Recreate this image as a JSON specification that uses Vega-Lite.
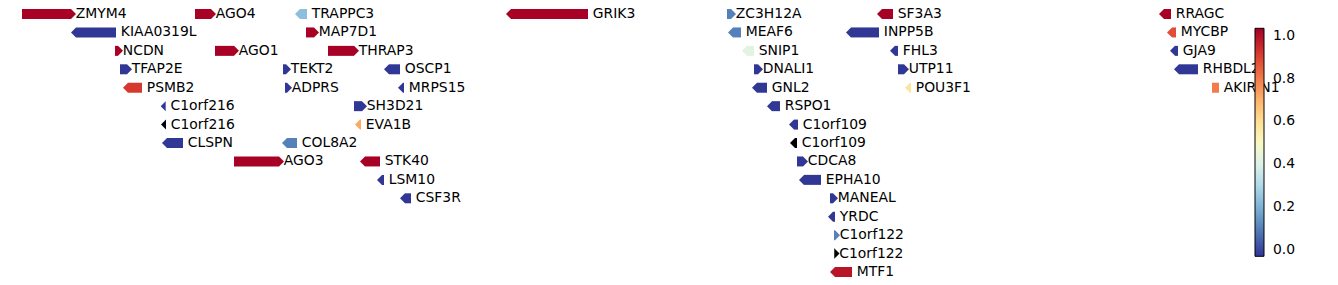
{
  "$schema": "https://vega.github.io/schema/vega-lite/v6.json",
  "width": 1338,
  "height": 285,
  "padding": 0,
  "autosize": {"type": "none"},
  "config": {"view": {"stroke": null}},
  "data": {
    "values": [
      {"gene": "ZMYM4", "row": 0, "bs": 22, "be": 71, "strand": "+", "score": 1.03},
      {"gene": "AGO4", "row": 0, "bs": 195, "be": 211, "strand": "+", "score": 1.03},
      {"gene": "TRAPPC3", "row": 0, "bs": 300, "be": 307, "strand": "-", "score": 0.23},
      {"gene": "GRIK3", "row": 0, "bs": 511, "be": 588, "strand": "-", "score": 1.03},
      {"gene": "ZC3H12A", "row": 0, "bs": 727, "be": 731, "strand": "+", "score": 0.1},
      {"gene": "SF3A3", "row": 0, "bs": 882, "be": 893, "strand": "-", "score": 1.03},
      {"gene": "RRAGC", "row": 0, "bs": 1164, "be": 1171, "strand": "-", "score": 1.03},
      {"gene": "KIAA0319L", "row": 1, "bs": 76, "be": 116, "strand": "-", "score": -0.03},
      {"gene": "MAP7D1", "row": 1, "bs": 306, "be": 314, "strand": "+", "score": 1.03},
      {"gene": "MEAF6", "row": 1, "bs": 733, "be": 741, "strand": "-", "score": 0.1},
      {"gene": "INPP5B", "row": 1, "bs": 851, "be": 879, "strand": "-", "score": -0.03},
      {"gene": "MYCBP", "row": 1, "bs": 1172, "be": 1176, "strand": "-", "score": 0.88},
      {"gene": "NCDN", "row": 2, "bs": 115, "be": 118, "strand": "+", "score": 1.03},
      {"gene": "AGO1", "row": 2, "bs": 215, "be": 234, "strand": "+", "score": 1.03},
      {"gene": "THRAP3", "row": 2, "bs": 328, "be": 354, "strand": "+", "score": 1.03},
      {"gene": "SNIP1", "row": 2, "bs": 747, "be": 754, "strand": "-", "score": 0.42},
      {"gene": "FHL3", "row": 2, "bs": 895, "be": 898, "strand": "-", "score": -0.03},
      {"gene": "GJA9", "row": 2, "bs": 1175, "be": 1178, "strand": "-", "score": -0.03},
      {"gene": "TFAP2E", "row": 3, "bs": 120, "be": 127, "strand": "+", "score": -0.03},
      {"gene": "TEKT2", "row": 3, "bs": 283, "be": 286, "strand": "+", "score": -0.03},
      {"gene": "OSCP1", "row": 3, "bs": 389, "be": 400, "strand": "-", "score": -0.03},
      {"gene": "DNALI1", "row": 3, "bs": 754, "be": 758, "strand": "+", "score": -0.03},
      {"gene": "UTP11", "row": 3, "bs": 898, "be": 904, "strand": "+", "score": -0.03},
      {"gene": "RHBDL2", "row": 3, "bs": 1179, "be": 1198, "strand": "-", "score": -0.03},
      {"gene": "PSMB2", "row": 4, "bs": 128, "be": 142, "strand": "-", "score": 0.92},
      {"gene": "ADPRS", "row": 4, "bs": 285, "be": 287, "strand": "+", "score": -0.03},
      {"gene": "MRPS15", "row": 4, "bs": 403, "be": 404, "strand": "-", "score": -0.03},
      {"gene": "GNL2", "row": 4, "bs": 757, "be": 767, "strand": "-", "score": -0.03},
      {"gene": "POU3F1", "row": 4, "bs": 910, "be": 911, "strand": "-", "score": 0.58},
      {"gene": "AKIRIN1", "row": 4, "bs": 1212, "be": 1219, "strand": ".", "score": 0.8},
      {"gene": "C1orf216", "row": 5, "bs": 165.7, "be": 165.7, "strand": "-", "score": -0.03},
      {"gene": "SH3D21", "row": 5, "bs": 354, "be": 362, "strand": "+", "score": -0.03},
      {"gene": "RSPO1", "row": 5, "bs": 772, "be": 780, "strand": "-", "score": -0.03},
      {"gene": "C1orf216", "row": 6, "bs": 166, "be": 166, "strand": "-", "score": null},
      {"gene": "EVA1B", "row": 6, "bs": 360, "be": 361, "strand": "-", "score": 0.72},
      {"gene": "C1orf109", "row": 6, "bs": 794, "be": 798, "strand": "-", "score": -0.03},
      {"gene": "CLSPN", "row": 7, "bs": 167, "be": 183, "strand": "-", "score": -0.03},
      {"gene": "COL8A2", "row": 7, "bs": 287, "be": 297, "strand": "-", "score": 0.1},
      {"gene": "C1orf109", "row": 7, "bs": 795, "be": 797, "strand": "-", "score": null},
      {"gene": "AGO3", "row": 8, "bs": 234, "be": 279, "strand": "+", "score": 1.03},
      {"gene": "STK40", "row": 8, "bs": 365, "be": 380, "strand": "-", "score": 1.03},
      {"gene": "CDCA8", "row": 8, "bs": 797, "be": 803, "strand": "+", "score": -0.03},
      {"gene": "LSM10", "row": 9, "bs": 382, "be": 384, "strand": "-", "score": -0.03},
      {"gene": "EPHA10", "row": 9, "bs": 804, "be": 821, "strand": "-", "score": -0.03},
      {"gene": "CSF3R", "row": 10, "bs": 405, "be": 411, "strand": "-", "score": -0.03},
      {"gene": "MANEAL", "row": 10, "bs": 830, "be": 833, "strand": "+", "score": -0.03},
      {"gene": "YRDC", "row": 11, "bs": 833, "be": 835, "strand": "-", "score": -0.03},
      {"gene": "C1orf122", "row": 12, "bs": 834, "be": 835, "strand": "+", "score": 0.1},
      {"gene": "C1orf122", "row": 13, "bs": 834, "be": 834.5, "strand": "+", "score": null},
      {"gene": "MTF1", "row": 14, "bs": 835, "be": 852, "strand": "-", "score": 0.99}
    ]
  },
  "encoding": {
    "y": {"field": "row", "type": "quantitative", "axis": null,
          "scale": {"domain": [-0.76, 14.704], "reverse": true, "nice": false, "zero": false, "padding": 0}}
  },
  "layer": [
    {
      "transform": [{"filter": "isValid(datum.score)"}],
      "encoding": {
        "fill": {
          "field": "score", "type": "quantitative",
          "scale": {"scheme": "redyellowblue", "reverse": true, "domain": [-0.031, 1.035], "nice": false, "zero": false},
          "legend": {
            "type": "gradient",
            "orient": "none", "legendX": 1255, "legendY": 28.3, "title": null,
            "direction": "vertical", "gradientLength": 228, "gradientThickness": 9,
            "gradientStrokeColor": "black", "gradientStrokeWidth": 1,
            "values": [0, 0.2, 0.4, 0.6, 0.8, 1.0], "format": ".1f",
            "labelFont": "DejaVu Sans", "labelFontSize": 13.9, "labelColor": "black",
            "labelOffset": 9, "labelOverlap": false, "padding": 0
          }
        }
      },
      "layer": [
        {
          "mark": {"type": "bar", "height": 10, "orient": "horizontal"},
          "encoding": {
            "x": {"field": "bs", "type": "quantitative", "axis": null,
                  "scale": {"domain": [0, 1338], "nice": false, "zero": false, "padding": 0}},
            "x2": {"field": "be"}
          }
        },
        {
          "transform": [{"filter": "datum.strand == '+'"}],
          "mark": {"type": "point", "shape": "M0,-1L1,0L0,1Z", "filled": true, "size": 100, "opacity": 1, "strokeWidth": 0},
          "encoding": {"x": {"field": "be", "type": "quantitative"}}
        },
        {
          "transform": [{"filter": "datum.strand == '-'"}],
          "mark": {"type": "point", "shape": "M0,-1L-1,0L0,1Z", "filled": true, "size": 100, "opacity": 1, "strokeWidth": 0},
          "encoding": {"x": {"field": "bs", "type": "quantitative"}}
        }
      ]
    },
    {
      "transform": [{"filter": "!isValid(datum.score)"}],
      "layer": [
        {
          "mark": {"type": "bar", "height": 10, "orient": "horizontal", "color": "black"},
          "encoding": {
            "x": {"field": "bs", "type": "quantitative"},
            "x2": {"field": "be"}
          }
        },
        {
          "transform": [{"filter": "datum.strand == '+'"}],
          "mark": {"type": "point", "shape": "M0,-1L1,0L0,1Z", "filled": true, "size": 100, "opacity": 1, "strokeWidth": 0, "color": "black"},
          "encoding": {"x": {"field": "be", "type": "quantitative"}}
        },
        {
          "transform": [{"filter": "datum.strand == '-'"}],
          "mark": {"type": "point", "shape": "M0,-1L-1,0L0,1Z", "filled": true, "size": 100, "opacity": 1, "strokeWidth": 0, "color": "black"},
          "encoding": {"x": {"field": "bs", "type": "quantitative"}}
        }
      ]
    },
    {
      "mark": {"type": "text", "align": "left", "baseline": "middle", "dx": 4.8, "font": "DejaVu Sans", "fontSize": 13.9, "color": "black"},
      "encoding": {
        "x": {"field": "be", "type": "quantitative"},
        "text": {"field": "gene"}
      }
    }
  ]
}
